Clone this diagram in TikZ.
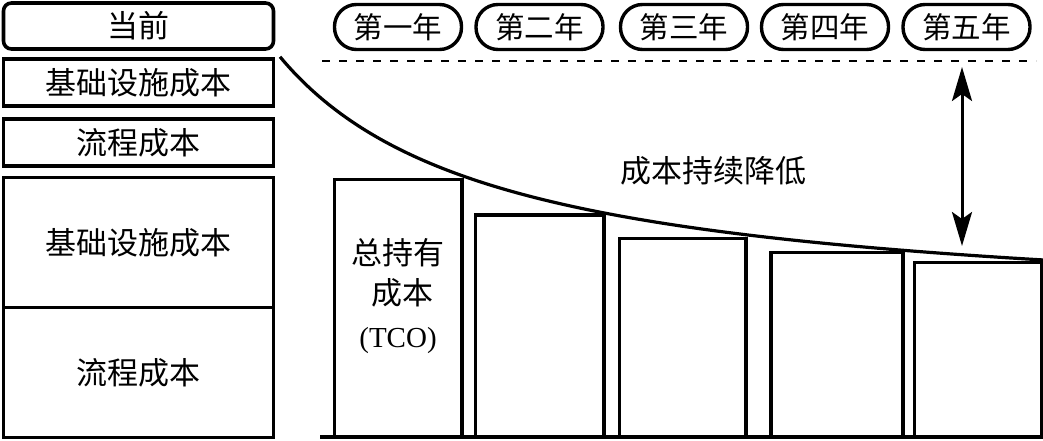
\documentclass[tikz,border=0pt]{standalone}
\usepackage{fontspec}
\setmainfont{Liberation Serif}
\newfontfamily\cjk{Noto Sans CJK SC}
\usetikzlibrary{arrows.meta}
\begin{document}
\begin{tikzpicture}[x=1pt,y=-1pt,
  txt/.style={font=\cjk\fontsize{31}{35}\selectfont, inner sep=0pt},
  costbox/.style={draw, line width=3.6pt, inner sep=0pt},
  pill/.style={draw, line width=3.4pt, rounded corners=22pt, minimum width=127pt, minimum height=45pt, inner sep=0pt, font=\cjk\fontsize{29.5}{32}\selectfont},
  bar/.style={draw, line width=3.6pt},
  curveline/.style={line width=3.2pt},
  dline/.style={line width=1.8pt, dash pattern=on 8pt off 9pt},
  arr/.style={line width=3pt, {Stealth[length=34pt,width=20pt,inset=7pt]}-{Stealth[length=34pt,width=20pt,inset=7pt]}}
]
\useasboundingbox (0,0) rectangle (1043,441);
% left column
\node[costbox, rounded corners=8pt, minimum width=270pt, minimum height=46pt, txt] (now) at (138.5,26) {当前};
\node[costbox, minimum width=270pt, minimum height=47pt, txt] (infra1) at (138.5,82.5) {基础设施成本};
\node[costbox, minimum width=270pt, minimum height=47pt, txt] (proc1) at (138.5,142.5) {流程成本};
\node[costbox, minimum width=270pt, minimum height=130pt, txt] (infra2) at (138.5,242.5) {基础设施成本};
\node[costbox, minimum width=270pt, minimum height=130pt, txt] (proc2) at (138.5,372.5) {流程成本};
% year pills
\node[pill] (y1) at (398,27) {第一年};
\node[pill] (y2) at (539.5,27) {第二年};
\node[pill] (y3) at (684,27) {第三年};
\node[pill] (y4) at (825,27) {第四年};
\node[pill] (y5) at (966.5,27) {第五年};
% dashed line
\coordinate (dl) at (322,61);
\coordinate (dr) at (1036,61);
\draw[dline] (dl) -- (dr);
% baseline
\coordinate (bl) at (320,437);
\coordinate (br) at (1043,437);
\draw[line width=3.6pt] (bl) -- (br);
% bars
\draw[bar] (334.5,437) rectangle (462,179.5);
\draw[bar] (475.5,437) rectangle (604,215);
\draw[bar] (619.5,437) rectangle (746,238.5);
\draw[bar] (771,437) rectangle (903,252.5);
\draw[bar] (914.5,437) rectangle (1041.5,262.5);
% bar texts
\node[txt] (t1) at (398,253) {总持有};
\node[txt] (t2) at (402,293) {成本};
\node[inner sep=0pt, font=\fontsize{29}{32}\selectfont] (t3) at (398,341) {(TCO)};
% curve
\draw[curveline] plot[domain=280:1043, samples=120, smooth] (\x, {318-569.44/((\x-62)/100)});
% label
\node[txt] (lbl) at (713,171) {成本持续降低};
% double arrow
\coordinate (at) at (962,67);
\coordinate (ab) at (962,246);
\draw[arr] (at) -- (ab);
\end{tikzpicture}
\end{document}
